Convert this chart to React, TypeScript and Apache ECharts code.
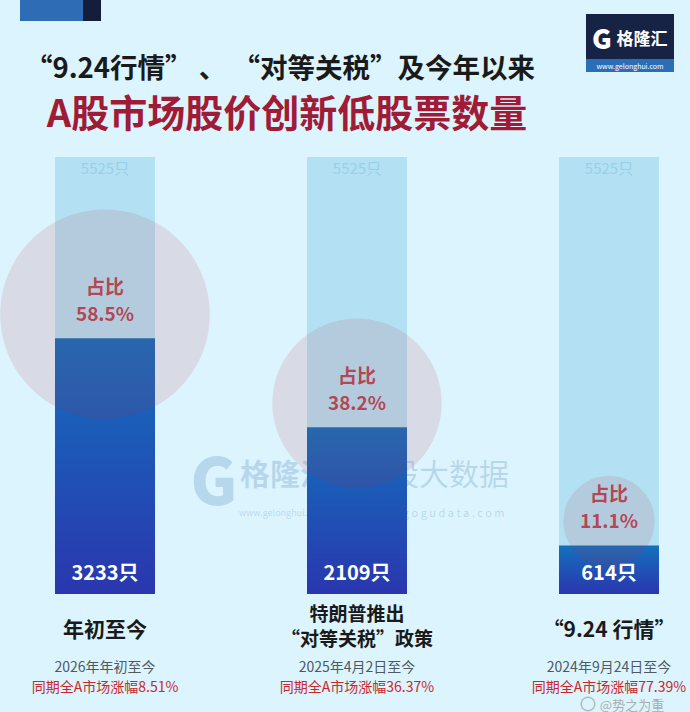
import React, { useEffect, useRef } from "react";
import * as echarts from "echarts";

const categories = ["年初至今", "特朗普推出\n“对等关税”政策", "“9.24 行情”"];
const periodLabels = ["2026年年初至今", "2025年4月2日至今", "2024年9月24日至今"];
const gainLabels = ["同期全A市场涨幅8.51%", "同期全A市场涨幅36.37%", "同期全A市场涨幅77.39%"];
const totalStocks = [5525, 5525, 5525];
const newLowStocks = [3233, 2109, 614];
const shares = [58.5, 38.2, 11.1];

const FONT = '"Noto Sans CJK SC", "Noto Sans", sans-serif';
const WM = "rgba(90,140,195,0.28)";

export default function App() {
  const ref = useRef<HTMLDivElement>(null);
  useEffect(() => {
    if (!ref.current) return;
    const chart = echarts.init(ref.current, null, { renderer: "svg" });
    const option: any = {
      animation: false,
      backgroundColor: "#dcf4fd",
      textStyle: { fontFamily: FONT },
      grid: { left: 105, right: 81, top: 157, bottom: 118 },
      xAxis: {
        type: "category",
        data: categories,
        boundaryGap: false,
        axisLine: { show: false },
        axisTick: { show: false },
        axisLabel: {
          interval: 0,
          margin: 6,
          verticalAlign: "top",
          formatter: (v: string, i: number) => {
            const lines = v.split("\n");
            const main =
              lines.length > 1
                ? lines.map((l) => `{t2|${l}}`).join("\n") + "\n{s| }"
                : `{t1|${v}}`;
            return `${main}\n{d|${periodLabels[i]}}\n{r|${gainLabels[i]}}`;
          },
          rich: {
            t1: { fontSize: 21, fontWeight: "bold", color: "#1a1a1a", lineHeight: 56, fontFamily: FONT },
            t2: { fontSize: 19, fontWeight: "bold", color: "#1a1a1a", lineHeight: 25, fontFamily: FONT },
            s: { fontSize: 1, lineHeight: 6 },
            d: { fontSize: 14, color: "#4f5960", lineHeight: 20, fontFamily: FONT },
            r: { fontSize: 14, color: "#c8282d", lineHeight: 20, fontFamily: FONT },
          },
        },
      },
      yAxis: { type: "value", min: 0, max: 5525, show: false, splitLine: { show: false } },
      series: [
        {
          type: "bar",
          data: totalStocks,
          barWidth: 100,
          barGap: "-100%",
          itemStyle: { color: "#b3e1f3" },
          label: {
            show: true,
            position: "insideTop",
            distance: 3,
            formatter: "{c}只",
            color: "#99cfe8",
            fontSize: 15,
            fontFamily: FONT,
          },
          z: 3,
        },
        {
          type: "bar",
          data: newLowStocks,
          barWidth: 100,
          itemStyle: {
            color: new echarts.graphic.LinearGradient(0, 0, 0, 1, [
              { offset: 0, color: "#1470bd" },
              { offset: 1, color: "#2a36ae" },
            ]),
          },
          label: {
            show: true,
            position: "insideBottom",
            distance: 13,
            formatter: "{c}只",
            color: "#ffffff",
            fontSize: 20,
            fontWeight: "bold",
            fontFamily: FONT,
          },
          z: 4,
        },
        {
          type: "scatter",
          data: newLowStocks.map((v, i) => [i, v]),
          symbol: "circle",
          symbolSize: (_: any, p: any) => Math.sqrt(shares[p.dataIndex]) * 27.4,
          symbolOffset: [0, -24],
          itemStyle: { color: "rgba(192,40,62,0.15)" },
          label: {
            show: true,
            position: "inside",
            offset: [0, -15],
            formatter: (p: any) => `{a|占比}\n{a|${shares[p.dataIndex]}%}`,
            rich: {
              a: { fontSize: 19, fontWeight: "bold", color: "#b3232e", lineHeight: 27, fontFamily: FONT },
            },
          },
          z: 6,
        },
      ],
      graphic: [
        { type: "rect", z: 10, shape: { x: 20, y: 0, width: 63, height: 21 }, style: { fill: "#2e6db6" } },
        { type: "rect", z: 10, shape: { x: 83, y: 0, width: 18, height: 21 }, style: { fill: "#141d3a" } },
        { type: "rect", z: 10, shape: { x: 586, y: 14, width: 88, height: 45 }, style: { fill: "#172345" } },
        { type: "rect", z: 10, shape: { x: 586, y: 59, width: 88, height: 13 }, style: { fill: "#2c6db8" } },
        {
          type: "text", z: 10, x: 602, y: 37,
          style: { text: "G", fill: "#ffffff", font: `900 27px ${FONT}`, textAlign: "center", textVerticalAlign: "middle" },
        },
        {
          type: "text", z: 10, x: 642, y: 37,
          style: { text: "格隆汇", fill: "#ffffff", font: `bold 17px ${FONT}`, textAlign: "center", textVerticalAlign: "middle" },
        },
        {
          type: "text", z: 10, x: 630, y: 66,
          style: { text: "www.gelonghui.com", fill: "#ffffff", font: `7px ${FONT}`, textAlign: "center", textVerticalAlign: "middle" },
        },
        {
          type: "text", z: 10, x: 280, y: 66,
          style: {
            text: "“9.24行情” 、 “对等关税”及今年以来",
            fill: "#1a1a1a", font: `bold 27.5px ${FONT}`, textAlign: "center", textVerticalAlign: "middle",
          },
        },
        {
          type: "text", z: 10, x: 287, y: 110,
          style: {
            text: "A股市场股价创新低股票数量",
            fill: "#a01b35", font: `bold 38px ${FONT}`, textAlign: "center", textVerticalAlign: "middle",
          },
        },
        {
          type: "group", z: 0,
          children: [
            {
              type: "text", z: 0, x: 214, y: 477,
              style: { text: "G", fill: WM, font: `900 64px ${FONT}`, textAlign: "center", textVerticalAlign: "middle" },
            },
            {
              type: "text", z: 0, x: 285, y: 472,
              style: { text: "格隆汇", fill: WM, font: `bold 30px ${FONT}`, textAlign: "center", textVerticalAlign: "middle" },
            },
            {
              type: "text", z: 0, x: 282, y: 512,
              style: { text: "www.gelonghui.com", fill: WM, font: `9px ${FONT}`, textAlign: "center", textVerticalAlign: "middle" },
            },
            { type: "line", z: 0, shape: { x1: 342, y1: 458, x2: 342, y2: 512 }, style: { stroke: WM, lineWidth: 1 } },
            {
              type: "text", z: 0, x: 434, y: 472,
              style: { text: "估股大数据", fill: WM, font: `30px ${FONT}`, textAlign: "center", textVerticalAlign: "middle" },
            },
            {
              type: "text", z: 0, x: 434, y: 512,
              style: { text: "w w w . g o g u d a t a . c o m", fill: WM, font: `11px ${FONT}`, textAlign: "center", textVerticalAlign: "middle" },
            },
          ],
        },
        {
          type: "text", z: 10, x: 632, y: 704,
          style: { text: "@势之为重", fill: "rgba(150,150,150,0.75)", font: `13px ${FONT}`, textAlign: "center", textVerticalAlign: "middle" },
        },
        {
          type: "ring", z: 10, x: 588, y: 704,
          shape: { r: 7.5, r0: 6 },
          style: { fill: "rgba(150,150,150,0.6)" },
        },
      ],
    };
    chart.setOption(option);
    return () => chart.dispose();
  }, []);
  return <div ref={ref} style={{ width: 690, height: 712, position: "absolute", left: 0, top: 0 }} />;
}
